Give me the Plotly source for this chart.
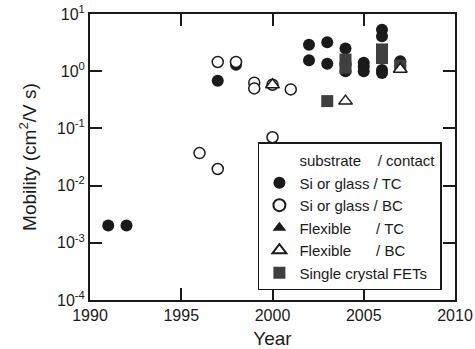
import plotly.graph_objects as go

# Data
si_tc_year = [1991, 1992, 1997, 1998, 2002, 2002, 2003, 2003, 2004, 2004, 2004, 2005, 2005, 2005,
              2006, 2006, 2006, 2006, 2007, 2007]
si_tc_mob = [0.002, 0.002, 0.68, 1.3, 2.9, 1.55, 3.2, 1.35, 2.5, 1.3, 1.0, 1.4, 1.2, 1.0,
             5.3, 4.1, 1.05, 0.93, 1.5, 1.25]

si_bc_year = [1996, 1997, 1997, 1998, 1999, 1999, 2000, 2000, 2001]
si_bc_mob = [0.037, 0.0195, 1.45, 1.45, 0.63, 0.5, 0.58, 0.07, 0.48]

flex_tc_year = [None]
flex_tc_mob = [None]

flex_bc_year = [2000, 2004, 2007]
flex_bc_mob = [0.58, 0.30, 1.08]

sc_year = [2003, 2004, 2004, 2006, 2006, 2007]
sc_mob = [0.30, 1.6, 1.15, 2.4, 1.7, 1.25]

y_tickvals = [1e-4, 1e-3, 1e-2, 1e-1, 1e0, 1e1]
y_ticktext = ["10<sup>-4</sup>", "10<sup>-3</sup>", "10<sup>-2</sup>",
              "10<sup>-1</sup>", "10<sup>0</sup>", "10<sup>1</sup>"]
x_tickvals = [1990, 1995, 2000, 2005, 2010]

ink = "#1a1a1a"
sq = "#3f3f3f"
NB = "\u00a0"
name_hdr = "substrate" + NB * 4 + "/ contact"
name_ftc = "Flexible" + NB * 6 + "/ TC"
name_fbc = "Flexible" + NB * 6 + "/ BC"

fig = go.Figure()
fig.add_trace(go.Scatter(x=[None], y=[None], mode="markers",
                         marker=dict(size=12, color="rgba(0,0,0,0)"),
                         name=name_hdr, legendrank=1))
fig.add_trace(go.Scatter(x=si_tc_year, y=si_tc_mob, mode="markers",
                         marker=dict(symbol="circle", size=12, color=ink, line=dict(width=0)),
                         name="Si or glass / TC", legendrank=2))
fig.add_trace(go.Scatter(x=sc_year, y=sc_mob, mode="markers",
                         marker=dict(symbol="square", size=12, color=sq, line=dict(width=0)),
                         name="Single crystal FETs", legendrank=6))
fig.add_trace(go.Scatter(x=si_bc_year, y=si_bc_mob, mode="markers",
                         marker=dict(symbol="circle", size=11, color="white",
                                     line=dict(width=1.5, color=ink)),
                         name="Si or glass / BC", legendrank=3))
fig.add_trace(go.Scatter(x=flex_tc_year, y=flex_tc_mob, mode="markers",
                         marker=dict(symbol="triangle-up", size=12, color=ink, line=dict(width=0)),
                         name=name_ftc, legendrank=4))
fig.add_trace(go.Scatter(x=flex_bc_year, y=flex_bc_mob, mode="markers",
                         marker=dict(symbol="triangle-up", size=12, color="white",
                                     line=dict(width=1.5, color=ink)),
                         name=name_fbc, legendrank=5))

fig.update_layout(
    width=475, height=349,
    margin=dict(l=90, r=20, t=14, b=49),
    paper_bgcolor="white", plot_bgcolor="white",
    font=dict(family="Arial, Liberation Sans, sans-serif", size=16, color=ink),
    showlegend=True,
    legend=dict(x=0.46, y=0.551, xanchor="left", yanchor="top",
                bgcolor="white", bordercolor=ink, borderwidth=1.5,
                font=dict(size=15), traceorder="normal",
                tracegroupgap=0, itemsizing="constant"),
    xaxis=dict(range=[1990, 2010], tickvals=x_tickvals, ticks="inside", ticklen=12,
               tickwidth=2, tickcolor=ink, showline=True, linewidth=2, linecolor=ink,
               mirror="ticks", showgrid=False, zeroline=False, automargin=False,
               title=dict(text="Year")),
    yaxis=dict(type="log", range=[-4, 1], tickvals=y_tickvals, ticktext=y_ticktext,
               ticks="inside", ticklen=12, tickwidth=2, tickcolor=ink, showline=True,
               linewidth=2, linecolor=ink, mirror="ticks", showgrid=False, zeroline=False,
               automargin=False,
               title=dict(text="Mobility (cm<sup>2</sup>/V s)")),
)

fig.write_html("out.html", config={"displayModeBar": False},
               post_script="document.body.style.margin='0px';")
